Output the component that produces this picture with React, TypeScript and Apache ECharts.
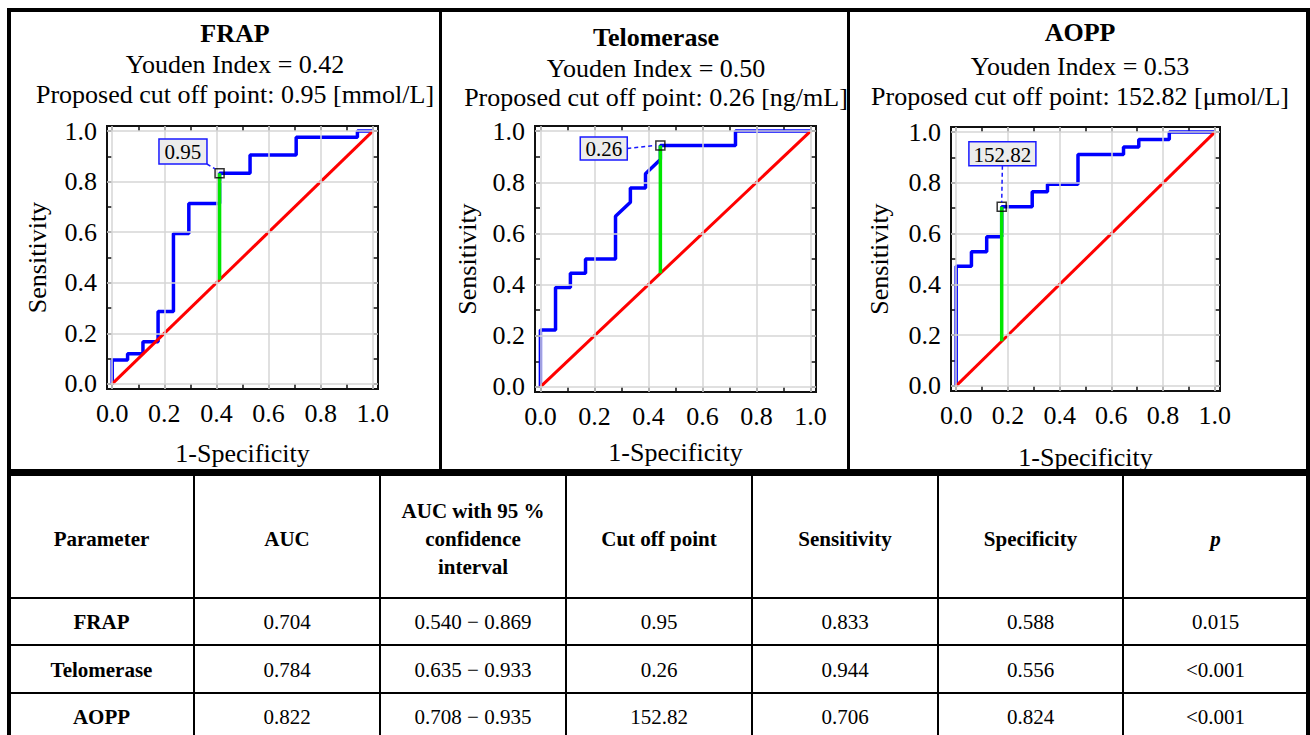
import React, { useEffect, useRef } from 'react';
import * as echarts from 'echarts';

// ---------- data ----------
const markers = ['FRAP', 'Telomerase', 'AOPP'];
const youdenIndex = ['0.42', '0.50', '0.53'];
const cutOffPoints = ['0.95', '0.26', '152.82'];
const units = ['mmol/L', 'ng/mL', 'μmol/L'];
const aucValues = ['0.704', '0.784', '0.822'];
const aucCI = ['0.540 − 0.869', '0.635 − 0.933', '0.708 − 0.935'];
const sensitivity = [0.833, 0.944, 0.706];
const specificity = [0.588, 0.556, 0.824];
const pValues = ['0.015', '<0.001', '<0.001'];
const tableHeaders = ['Parameter', 'AUC', 'AUC with 95 %\nconfidence\ninterval', 'Cut off point', 'Sensitivity', 'Specificity', 'p'];

// ROC curve vertices: [1 - specificity, sensitivity]
const frapRoc = [
  [0, 0], [0, 0.095], [0.059, 0.095], [0.059, 0.119], [0.118, 0.119], [0.118, 0.167],
  [0.176, 0.167], [0.176, 0.286], [0.235, 0.286], [0.235, 0.595], [0.294, 0.595],
  [0.294, 0.714], [0.412, 0.714], [0.412, 0.833], [0.529, 0.833], [0.529, 0.905],
  [0.706, 0.905], [0.706, 0.976], [0.941, 0.976], [0.941, 1.0], [1.0, 1.0],
];
const telomeraseRoc = [
  [0, 0], [0, 0.222], [0.056, 0.222], [0.056, 0.389], [0.111, 0.389], [0.111, 0.444],
  [0.167, 0.444], [0.167, 0.5], [0.278, 0.5], [0.278, 0.667], [0.333, 0.722],
  [0.333, 0.778], [0.389, 0.778], [0.389, 0.833], [0.444, 0.889], [0.444, 0.944],
  [0.722, 0.944], [0.722, 1.0], [1.0, 1.0],
];
const aoppRoc = [
  [0, 0], [0, 0.471], [0.059, 0.471], [0.059, 0.529], [0.118, 0.529], [0.118, 0.588],
  [0.176, 0.588], [0.176, 0.706], [0.294, 0.706], [0.294, 0.765], [0.353, 0.765],
  [0.353, 0.794], [0.471, 0.794], [0.471, 0.912], [0.647, 0.912], [0.647, 0.941],
  [0.706, 0.941], [0.706, 0.971], [0.824, 0.971], [0.824, 1.0], [1.0, 1.0],
];
const rocCurves = [frapRoc, telomeraseRoc, aoppRoc];
const diagonal = [[0, 0], [1, 1]];
const majorTicks = [0, 0.2, 0.4, 0.6, 0.8, 1.0];
const minorTicks = [0, 0.1, 0.2, 0.3, 0.4, 0.5, 0.6, 0.7, 0.8, 0.9, 1.0];

// ---------- layout ----------
const FONT = '"Liberation Serif", "Times New Roman", serif';
const grids = [
  { left: 107, top: 126, width: 271, height: 263 },
  { left: 535, top: 126, width: 281, height: 266 },
  { left: 951, top: 127, width: 269, height: 264 },
];
const yNameGap = [57, 55, 59];
const xNameGap = [51, 47, 53];
const titleX = [235, 656, 1080];
const titleY = [[33, 64, 94], [37, 68, 97], [32, 66, 96]];
const boxLayout = [
  { dx: -36.6, dy: -21.8, w: 48, h: 25, ex: -4.5, ey: -4.5 },
  { dx: -56.6, dy: 3, w: 47, h: 23, ex: -4.5, ey: 0 },
  { dx: 0.7, dy: -53, w: 67, h: 24, ex: 0, ey: -4.5 },
];
const colX = [9, 194, 380, 566, 752, 938, 1123, 1308];
const rowLines = [598, 645, 693];
const headerY = 539;
const rowY = [622, 670, 717];

const axisCommon = (i: number, pos: string, isX: boolean, main: boolean) => ({
  gridIndex: i,
  type: 'value',
  position: pos,
  min: -0.02,
  max: 1.02,
  axisLine: { show: false, onZero: false },
  splitLine: { show: false },
  axisTick: {
    show: true,
    inside: true,
    length: 5,
    customValues: minorTicks,
    lineStyle: { color: '#111', width: 1.5 },
  },
  axisLabel: {
    show: main,
    customValues: majorTicks,
    formatter: (v: number) => v.toFixed(1),
    fontSize: 26,
    fontFamily: FONT,
    color: '#000',
    margin: isX ? 11 : 10,
  },
  name: main ? (isX ? '1-Specificity' : 'Sensitivity') : '',
  nameLocation: 'middle',
  nameGap: isX ? xNameGap[i] : yNameGap[i],
  nameTextStyle: { fontSize: 26, fontFamily: FONT, color: '#000' },
});

export default function App() {
  const ref = useRef<HTMLDivElement>(null);
  useEffect(() => {
    if (!ref.current) return;
    const chart = echarts.init(ref.current, undefined, { renderer: 'svg' });

    const xAxis: any[] = [];
    const yAxis: any[] = [];
    const series: any[] = [];
    grids.forEach((_, i) => {
      xAxis.push(axisCommon(i, 'bottom', true, true));
      xAxis.push(axisCommon(i, 'top', true, false));
      yAxis.push(axisCommon(i, 'left', false, true));
      yAxis.push(axisCommon(i, 'right', false, false));
      const cx = 1 - specificity[i];
      const common = { xAxisIndex: i * 2, yAxisIndex: i * 2, silent: true, showSymbol: false };
      series.push({
        ...common,
        type: 'line',
        data: diagonal,
        lineStyle: { opacity: 0 },
        z: 1,
        markLine: {
          silent: true,
          symbol: ['none', 'none'],
          label: { show: false },
          lineStyle: { color: '#d6d6d6', width: 1.5, type: 'solid' },
          data: [
            ...majorTicks.map((v) => ({ xAxis: v })),
            ...majorTicks.map((v) => ({ yAxis: v })),
          ],
        },
      });
      series.push({
        ...common,
        type: 'line',
        name: markers[i] + ' ROC',
        data: rocCurves[i],
        lineStyle: { color: '#0000ff', width: 3.5 },
        z: 3,
      });
      series.push({
        ...common,
        type: 'line',
        name: 'Reference',
        data: diagonal,
        lineStyle: { color: '#ff0000', width: 3 },
        z: 4,
      });
      series.push({
        ...common,
        type: 'line',
        name: 'Youden',
        data: [[cx, cx], [cx, sensitivity[i]]],
        lineStyle: { color: '#00e600', width: 3.5 },
        z: 5,
      });
      series.push({
        ...common,
        type: 'scatter',
        name: 'Cut off',
        data: [[cx, sensitivity[i]]],
        symbol: 'rect',
        symbolSize: 9,
        itemStyle: { color: 'rgba(255,255,255,0)', borderColor: '#000', borderWidth: 1.5 },
        z: 6,
      });
    });

    chart.setOption({
      animation: false,
      backgroundColor: '#fff',
      grid: grids.map((g) => ({
        ...g,
        show: true,
        borderColor: '#111',
        borderWidth: 2,
        backgroundColor: 'transparent',
      })),
      xAxis,
      yAxis,
      series,
    });

    // ---------- graphic: titles, annotation boxes, frames, table ----------
    const g: any[] = [];
    const txt = (text: string, x: number, y: number, size: number, weight = 'normal', style = 'normal', extra: any = {}) => ({
      type: 'text',
      x,
      y,
      z: 50,
      style: {
        text,
        fontSize: size,
        fontFamily: FONT,
        fontWeight: weight,
        fontStyle: style,
        fill: '#000',
        align: 'center',
        verticalAlign: 'middle',
        ...extra,
      },
    });
    const line = (x1: number, y1: number, x2: number, y2: number, w: number, extra: any = {}) => ({
      type: 'line',
      z: 60,
      shape: { x1, y1, x2, y2 },
      style: { stroke: '#000', lineWidth: w, ...extra },
    });

    markers.forEach((m, i) => {
      g.push(txt(m, titleX[i], titleY[i][0], 26, 'bold'));
      g.push(txt(`Youden Index = ${youdenIndex[i]}`, titleX[i], titleY[i][1], 26));
      g.push(txt(`Proposed cut off point: ${cutOffPoints[i]} [${units[i]}]`, titleX[i], titleY[i][2], 26));

      const cx = 1 - specificity[i];
      const p = chart.convertToPixel({ gridIndex: i }, [cx, sensitivity[i]]) as number[];
      const b = boxLayout[i];
      const bx = p[0] + b.dx;
      const by = p[1] + b.dy;
      const start =
        i === 0 ? [bx + b.w / 2, by + b.h / 2] : i === 1 ? [bx + b.w / 2, by] : [bx, by + b.h / 2];
      g.push(line(start[0], start[1], p[0] + b.ex, p[1] + b.ey, 1.5, { stroke: '#1a1aff', lineDash: [4, 3] }));
      g.push({
        type: 'rect',
        z: 55,
        shape: { x: bx - b.w / 2, y: by - b.h / 2, width: b.w, height: b.h },
        style: { fill: '#ececec', stroke: '#1a1aff', lineWidth: 1.5 },
      });
      g.push({ ...txt(cutOffPoints[i], bx, by + 1, 21), z: 56 });
    });

    // outer frame of the figure panels
    g.push(line(7, 10, 1310, 10, 4));
    g.push(line(9, 8, 9, 735, 4));
    g.push(line(1308, 8, 1308, 735, 4));
    g.push(line(440.5, 10, 440.5, 472, 3));
    g.push(line(848.5, 10, 848.5, 472, 3));
    g.push(line(7, 472.5, 1310, 472.5, 7));

    // table
    colX.slice(1, -1).forEach((x) => g.push(line(x, 472, x, 735, 2)));
    rowLines.forEach((y) => g.push(line(9, y, 1308, y, 2)));
    const centers = colX.slice(0, -1).map((x, k) => (x + colX[k + 1]) / 2);
    tableHeaders.forEach((h, k) => {
      g.push(
        txt(h, centers[k], headerY, 21, 'bold', k === 6 ? 'italic' : 'normal', { lineHeight: 28 })
      );
    });
    markers.forEach((m, r) => {
      const cells = [
        m,
        aucValues[r],
        aucCI[r],
        cutOffPoints[r],
        sensitivity[r].toFixed(3),
        specificity[r].toFixed(3),
        pValues[r],
      ];
      cells.forEach((c, k) => {
        g.push(txt(c, centers[k], rowY[r], 21, k === 0 ? 'bold' : 'normal'));
      });
    });

    chart.setOption({ graphic: g });

    return () => chart.dispose();
  }, []);

  return (
    <div
      ref={ref}
      style={{ position: 'fixed', left: 0, top: 0, width: 1310, height: 735, background: '#fff' }}
    />
  );
}
